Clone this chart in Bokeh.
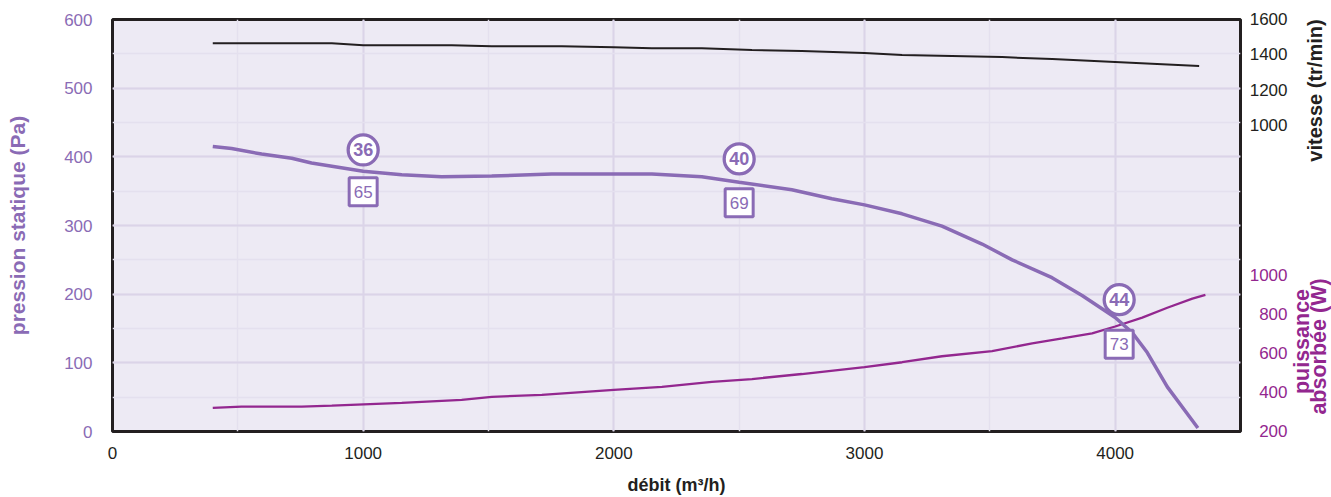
import math
from bokeh.plotting import figure
from bokeh.layouts import row
from bokeh.models import Range1d, SingleIntervalTicker
from bokeh.core.properties import value
from bokeh.embed import file_html
from bokeh.resources import INLINE

# ---- data ----
p_flow = [400, 475, 595, 715, 794, 1000, 1154, 1313, 1513, 1752, 2000, 2152, 2351, 2500,
          2710, 2870, 3000, 3150, 3309, 3469, 3589, 3748, 3868, 4000, 4068, 4128, 4208, 4330]
p_pa = [415, 412, 404, 398, 391, 379, 374, 371, 372, 375, 375, 375, 371, 363,
        352, 339, 330, 317, 299, 273, 250, 224, 198, 166, 144, 115, 65, 5]

s_flow = [400, 875, 1000, 1353, 1513, 1792, 2000, 2152, 2351, 2551, 2750, 3000, 3150,
          3349, 3549, 3749, 4000, 4335]
s_rpm = [1460, 1460, 1449, 1449, 1443, 1443, 1437, 1432, 1432, 1421, 1415, 1404, 1393,
         1387, 1381, 1370, 1353, 1331]

w_flow = [400, 515, 755, 875, 1154, 1393, 1513, 1713, 2000, 2192, 2391, 2551, 2750, 3000,
          3150, 3309, 3509, 3669, 3789, 3908, 4000, 4108, 4208, 4308, 4360]
w_watt = [297, 303, 303, 308, 323, 338, 354, 364, 390, 405, 431, 446, 472, 508,
          533, 564, 590, 631, 656, 682, 718, 764, 815, 862, 882]

mk_flow = [1000, 2500, 4016]
mk_circle_pa = [410, 397, 192]
mk_square_pa = [349, 333, 127]
mk_circle_txt = ["36", "40", "44"]
mk_square_txt = ["65", "69", "73"]

rpm_ticks = [1000, 1200, 1400, 1600]
watt_ticks = [200, 400, 600, 800, 1000]

PURPLE = "#8a6bb5"
MAGENTA = "#93278f"
DARK = "#231f20"
FONT = "Liberation Sans"

H = 497
FRAME_TOP, FRAME_BOTTOM = 19, 435

# right-hand scales expressed as linear maps of the vertical pixel position
def rpm_at(py):
    return 1600 - (py - 18) * 200 / 35.6

def watt_at(py):
    return 200 + (430 - py) * 200 / 39.0

# ---------------- main figure ----------------
p = figure(width=1242, height=H, output_backend="svg", toolbar_location=None,
           x_range=Range1d(0, 4500), y_range=Range1d(0, 600),
           min_border_left=112, min_border_right=2, min_border_top=FRAME_TOP,
           min_border_bottom=H - FRAME_BOTTOM)
p.extra_y_ranges = {"rpm": Range1d(rpm_at(FRAME_BOTTOM), rpm_at(FRAME_TOP)),
                    "watt": Range1d(watt_at(FRAME_BOTTOM), watt_at(FRAME_TOP))}

p.background_fill_color = "#edeaf4"
p.border_fill_color = "white"
p.outline_line_color = DARK
p.outline_line_width = 3

xa = p.xaxis[0]
xa.ticker = SingleIntervalTicker(interval=1000, num_minor_ticks=2)
xa.axis_line_color = None
xa.major_tick_line_color = None
xa.minor_tick_line_color = None
xa.major_tick_out = 0
xa.major_label_standoff = 11
xa.major_label_text_font = FONT
xa.major_label_text_font_size = "17px"
xa.major_label_text_color = DARK
xa.axis_label = "débit (m³/h)"
xa.axis_label_text_font = FONT
xa.axis_label_text_font_size = "18px"
xa.axis_label_text_font_style = "bold"
xa.axis_label_text_color = DARK
xa.axis_label_standoff = 13

ya = p.yaxis[0]
ya.ticker = SingleIntervalTicker(interval=100, num_minor_ticks=2)
ya.axis_line_color = None
ya.major_tick_line_color = None
ya.minor_tick_line_color = None
ya.major_tick_out = 0
ya.major_label_standoff = 16
ya.major_label_text_font = FONT
ya.major_label_text_font_size = "17px"
ya.major_label_text_color = PURPLE
ya.axis_label = "pression statique (Pa)"
ya.axis_label_text_font = FONT
ya.axis_label_text_font_size = "21px"
ya.axis_label_text_font_style = "bold"
ya.axis_label_text_color = PURPLE
ya.axis_label_standoff = 32

for g in (p.xgrid[0], p.ygrid[0]):
    g.grid_line_color = "#dbd4e8"
    g.grid_line_width = 2
    g.minor_grid_line_color = "#e4e0ee"
    g.minor_grid_line_width = 1.5

p.line(s_flow, s_rpm, y_range_name="rpm", line_color=DARK, line_width=2)
p.line(w_flow, w_watt, y_range_name="watt", line_color=MAGENTA, line_width=2.3)
p.line(p_flow, p_pa, line_color=PURPLE, line_width=3.5)

p.scatter(mk_flow, mk_circle_pa, marker="circle", size=30, fill_color="white",
          line_color=PURPLE, line_width=3.3)
p.scatter(mk_flow, mk_square_pa, marker="square", size=28, fill_color="white",
          line_color=PURPLE, line_width=3)
p.text(mk_flow, mk_circle_pa, text=mk_circle_txt, text_align="center", text_baseline="middle",
       text_font=value(FONT), text_font_size="18px", text_font_style="bold", text_color=PURPLE)
p.text(mk_flow, mk_square_pa, text=mk_square_txt, text_align="center", text_baseline="middle",
       text_font=value(FONT), text_font_size="17px", text_color=PURPLE)

# ---------------- right-hand scale panel ----------------
W2 = 1331 - 1242
q = figure(width=W2, height=H, output_backend="svg", toolbar_location=None,
           x_axis_location=None, y_axis_location=None,
           x_range=Range1d(0, W2), y_range=Range1d(rpm_at(H), rpm_at(0)),
           min_border_left=0, min_border_right=0, min_border_top=0, min_border_bottom=0)
try:
    q.frame_align = False
    p.frame_align = False
except Exception as e:
    print("frame_align unavailable", e)
q.extra_y_ranges = {"watt": Range1d(watt_at(H), watt_at(0))}
q.outline_line_color = None
q.background_fill_color = "white"
q.border_fill_color = "white"
q.grid.visible = False

LBL_X = 45
q.text([LBL_X] * len(rpm_ticks), rpm_ticks, text=[str(t) for t in rpm_ticks],
       text_align="right", text_baseline="middle", text_font=value(FONT),
       text_font_size="17px", text_color=DARK)
q.text([LBL_X] * len(watt_ticks), watt_ticks, text=[str(t) for t in watt_ticks],
       y_range_name="watt", text_align="right", text_baseline="middle", text_font=value(FONT),
       text_font_size="17px", text_color=MAGENTA)

q.text([72], [rpm_at(90)], text=["vitesse (tr/min)"], angle=math.pi / 2,
       text_align="center", text_baseline="middle", text_font=value(FONT),
       text_font_size="20px", text_font_style="bold", text_color=DARK)
q.text([59], [watt_at(341)], text=["puissance"], y_range_name="watt", angle=math.pi / 2,
       text_align="center", text_baseline="middle", text_font=value(FONT),
       text_font_size="21.5px", text_font_style="bold", text_color=MAGENTA)
q.text([76], [watt_at(346)], text=["absorbée (W)"], y_range_name="watt", angle=math.pi / 2,
       text_align="center", text_baseline="middle", text_font=value(FONT),
       text_font_size="21.5px", text_font_style="bold", text_color=MAGENTA)

layout = row(p, q, spacing=0)
open("out.html", "w").write(file_html(layout, INLINE))
